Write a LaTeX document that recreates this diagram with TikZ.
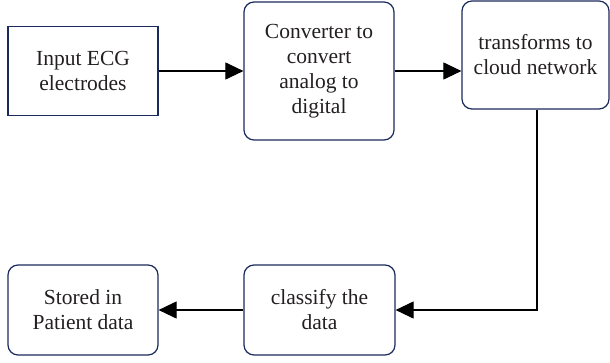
\documentclass[tikz,border=0pt]{standalone}
\usepackage{fontspec}
\setmainfont{Liberation Serif}
\usetikzlibrary{arrows.meta}
\definecolor{boxline}{HTML}{1B2A5C}
\definecolor{inkgray}{HTML}{231F20}
\begin{document}
\begin{tikzpicture}[x=1pt,y=-1pt,
  box/.style={draw=boxline, line width=1.2pt, align=center, inner sep=0pt,
    text=inkgray, font=\fontsize{21.5}{25}\selectfont},
  roundbox/.style={box, rounded corners=10pt},
  flow/.style={draw=black, line width=1.1pt, -{Triangle[length=18pt,width=17pt]}}]
  \useasboundingbox (0,0) rectangle (610,362);
  \node[box, minimum width=150pt, minimum height=89pt] (input) at (83,71)
    {Input ECG\\electrodes};
  \node[roundbox, minimum width=150pt, minimum height=138pt] (conv) at (319,71)
    {Converter to\\convert\\analog to\\digital};
  \node[roundbox, minimum width=147pt, minimum height=108pt] (cloud) at (535.5,55)
    {transforms to\\cloud network};
  \node[roundbox, minimum width=151pt, minimum height=90pt] (classify) at (319.5,310)
    {classify the\\data};
  \node[roundbox, minimum width=150pt, minimum height=90pt] (stored) at (83,310)
    {Stored in\\Patient data};
  \draw[flow] (input.east) -- (conv.west);
  \draw[flow] (conv.east) -- (conv.east -| cloud.west);
  \draw[flow] ([xshift=1.5pt]cloud.south) |- (classify.east);
  \draw[flow] (classify.west) -- (stored.east);
\end{tikzpicture}
\end{document}
